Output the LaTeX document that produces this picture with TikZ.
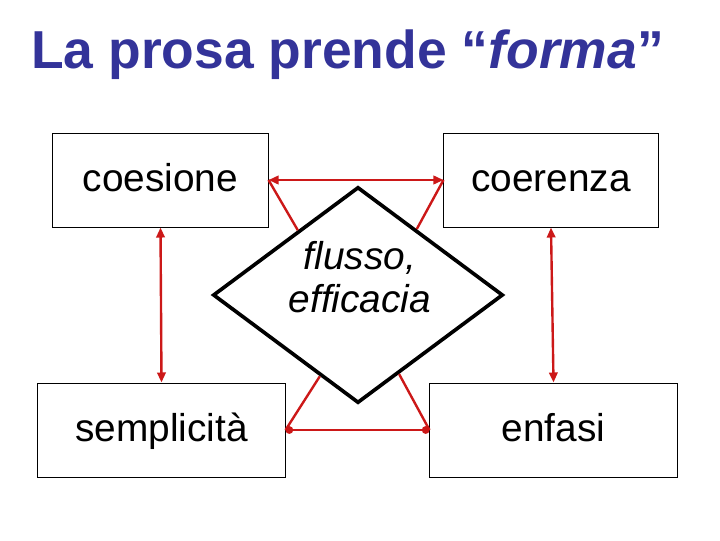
\documentclass[tikz,border=0pt]{standalone}
\usepackage{fontspec}
\setmainfont{Liberation Sans}
\usepackage{xcolor}
\usetikzlibrary{arrows.meta,positioning,calc,shapes.geometric}

\definecolor{titleblue}{RGB}{51,51,153}
\definecolor{linkred}{RGB}{204,24,24}

\begin{document}
\begin{tikzpicture}[
  x=0.025cm, y=-0.025cm,
  quality/.style={draw=black, line width=0.7pt, fill=white, align=center,
                  minimum height=2.35cm, inner sep=0pt,
                  text height=20pt, text depth=3pt,
                  font=\fontsize{27.6}{33}\selectfont},
  centre/.style={shape=diamond, draw=black, line width=2.6pt, fill=white,
                 minimum width=7.25cm, minimum height=5.4cm, inner sep=0pt},
  centretext/.style={align=center, inner sep=0pt,
                     font=\fontsize{27.6}{30.5}\selectfont\itshape},
  heading/.style={text=titleblue, inner sep=0pt,
                  font=\fontsize{38}{44}\selectfont\bfseries},
  link/.style={draw=linkred, line width=1.7pt},
  tw/.style={link, {Triangle[length=2.5mm,width=2.1mm]}-{Triangle[length=2.5mm,width=2.1mm]}},
  dot/.style={link, {Circle[length=1.9mm]}-{Circle[length=1.9mm]}},
]
\useasboundingbox (0,0) rectangle (720,540);

% ============ title ==========================================================
\node[heading, anchor=base] (title) at (347.5,68)
  {La prosa prende “\textit{forma}”};

% ============ centre =========================================================
\node[centre] (fe) at (358,295) {};
\node[centretext] (fetext) at (360,277) {flusso,\\efficacia};

% ============ the four qualities ============================================
\node[quality, minimum width=5.375cm] (coes) at (160.5,180) {coesione};
\node[quality, minimum width=5.35cm]  (coer) at (551,180)   {coerenza};
\node[quality, minimum width=6.175cm] (sempl) at (161.5,430) {semplicità};
\node[quality, minimum width=6.175cm] (enf)  at (553.5,430) {enfasi};

% points on the diamond edges
\coordinate (ful) at ($(fe.north)!0.41!(fe.west)$);
\coordinate (fur) at ($(fe.north)!0.40!(fe.east)$);
\coordinate (fll) at ($(fe.south)!0.26!(fe.west)$);
\coordinate (flr) at ($(fe.south)!0.28!(fe.east)$);

% ============ links ==========================================================
\draw[tw]  (coes.east)   -- (coer.west);
\draw[tw]  (coes.south)  -- (sempl.north);
\draw[tw]  (coer.south)  -- (enf.north);
\draw[dot] (sempl.east)  -- (enf.west);

\draw[link] (ful) -- (coes.east);
\draw[link] (fur) -- (coer.west);
\draw[link] (fll) -- (sempl.east);
\draw[link] (flr) -- (enf.west);

\end{tikzpicture}
\end{document}
